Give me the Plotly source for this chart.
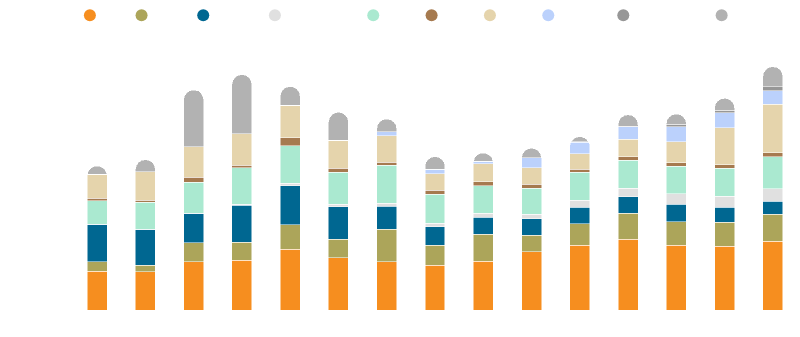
import plotly.graph_objects as go

# Stacked bars, one column per period, segments listed bottom to top
periods = list(range(1, 16))

s_orange = [39.0, 38.3, 48.3, 50.0, 61.0, 52.3, 48.3, 45.0, 49.0, 58.3, 64.7, 70.7, 64.7, 63.7, 69.0]
s_olive = [9.3, 6.7, 19.0, 17.7, 24.3, 18.7, 32.4, 19.7, 27.0, 16.4, 21.6, 26.3, 23.6, 24.0, 26.7]
s_blue = [37.7, 35.7, 29.7, 37.0, 39.2, 32.3, 23.3, 18.6, 17.0, 16.6, 16.4, 16.3, 17.5, 15.3, 13.0]
s_lightgray = [0.0, 0.0, 0.0, 1.0, 2.2, 2.7, 2.7, 3.4, 3.7, 4.7, 7.3, 8.7, 10.5, 11.0, 12.6]
s_mint = [23.3, 27.0, 31.0, 36.6, 37.6, 32.0, 38.0, 29.0, 27.6, 25.7, 27.7, 28.0, 27.7, 27.7, 32.0]
s_brown = [2.4, 2.0, 4.7, 2.4, 7.9, 3.7, 3.3, 4.3, 4.0, 4.0, 3.3, 3.3, 3.3, 3.6, 4.0]
s_beige = [24.0, 28.6, 30.6, 31.8, 32.8, 28.0, 26.3, 16.3, 18.0, 16.6, 15.5, 17.7, 21.0, 37.0, 48.4]
s_lightblue = [0.0, 0.0, 0.0, 0.0, 0.0, 0.0, 4.0, 4.7, 2.7, 10.0, 11.2, 12.3, 15.0, 15.0, 13.6]
s_darkgray = [0.0, 0.0, 0.0, 0.0, 0.0, 0.0, 0.0, 0.0, 0.0, 0.0, 0.5, 0.5, 2.4, 2.7, 4.0]
s_gray = [8.3, 12.0, 56.7, 58.8, 18.5, 28.0, 12.7, 12.3, 8.0, 9.4, 5.0, 11.4, 10.3, 11.7, 20.0]

series = [s_orange, s_olive, s_blue, s_lightgray, s_mint,
          s_brown, s_beige, s_lightblue, s_darkgray, s_gray]
colors = ["#F68E1F", "#ACA55A", "#006791", "#E0E0E0", "#AAE9D0",
          "#A67A4F", "#E5D4AC", "#BBD1FC", "#979797", "#B2B2B2"]
# legend entries carry no visible label; blank widths set the entry spacing
label_widths = [2, 5, 8, 16, 4, 4, 4, 9, 16, 1]

fig = go.Figure()
for vals, col in zip(series, colors):
    fig.add_trace(go.Bar(
        x=periods, y=vals, marker=dict(color=col, line=dict(color="white", width=0.5)),
        showlegend=False, hoverinfo="y",
    ))

for col, w in zip(colors, label_widths):
    fig.add_trace(go.Scatter(
        x=[None], y=[None], mode="markers", name="\u00a0" * w,
        marker=dict(color=col, size=12, symbol="circle"),
        showlegend=True,
    ))

fig.update_layout(
    width=800, height=337,
    margin=dict(l=73, r=3, t=37, b=27, autoexpand=False),
    barmode="stack", bargap=0.586, barcornerradius=10,
    paper_bgcolor="white", plot_bgcolor="white",
    font=dict(family="Liberation Sans, Arial, sans-serif", size=12, color="white"),
    legend=dict(orientation="h", x=-0.0043, xanchor="left", y=1.08, yanchor="middle",
                traceorder="normal", itemsizing="constant",
                font=dict(size=12, color="white"), bgcolor="rgba(0,0,0,0)"),
    xaxis=dict(visible=False, range=[0.5, 15.5]),
    yaxis=dict(visible=False, range=[0, 273]),
)

fig.write_html("out.html")
